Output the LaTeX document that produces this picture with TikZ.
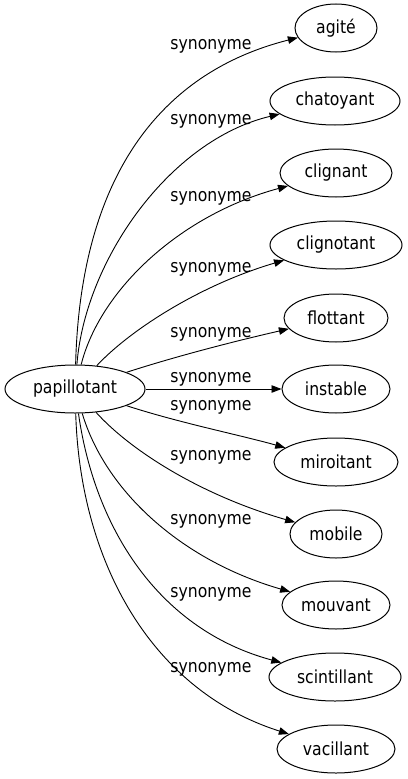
\documentclass[tikz,border=0pt]{standalone}
\usepackage{fontspec}
\setmainfont{DejaVu Sans}[FakeStretch=0.87]
\usetikzlibrary{shapes.geometric,arrows.meta}
\begin{document}
\begin{tikzpicture}[x=1pt,y=1pt,
  word/.style={ellipse,draw,line width=1pt,inner sep=0pt,minimum height=48pt,font=\fontsize{18}{20}\selectfont},
  syn/.style={-{Triangle[length=10pt,width=7.5pt]},line width=0.9pt},
  lab/.style={anchor=base,inner sep=0pt,font=\fontsize{18}{20}\selectfont}]
\useasboundingbox (0,0) rectangle (407,-779);
\node[word,minimum width=140pt] (p) at (75,-389) {papillotant};
\node[word,minimum width=82pt]  (n1)  at (336,-28)  {agité};
\node[word,minimum width=130pt] (n2)  at (335,-101) {chatoyant};
\node[word,minimum width=112pt] (n3)  at (336,-173) {clignant};
\node[word,minimum width=132pt] (n4)  at (336,-245) {clignotant};
\node[word,minimum width=104pt] (n5)  at (336,-318) {flottant};
\node[word,minimum width=108pt] (n6)  at (336,-389) {instable};
\node[word,minimum width=124pt] (n7)  at (336,-462) {miroitant};
\node[word,minimum width=92pt]  (n8)  at (336,-534) {mobile};
\node[word,minimum width=108pt] (n9)  at (336,-605) {mouvant};
\node[word,minimum width=132pt] (n10) at (335,-677) {scintillant};
\node[word,minimum width=118pt] (n11) at (336,-749) {vacillant};
\draw[syn] (p) .. controls (80,-190) and (150,-75) .. (n1);
\draw[syn] (p) .. controls (85,-260) and (170,-140) .. (n2);
\draw[syn] (p) .. controls (100,-290) and (180,-215) .. (n3);
\draw[syn] (p) .. controls (130,-330) and (200,-285) .. (n4);
\draw[syn] (p) .. controls (180,-355) and (240,-340) .. (n5);
\draw[syn] (p) -- (n6);
\draw[syn] (p) .. controls (180,-423) and (240,-435) .. (n7);
\draw[syn] (p) .. controls (130,-450) and (200,-495) .. (n8);
\draw[syn] (p) .. controls (105,-490) and (180,-560) .. (n9);
\draw[syn] (p) .. controls (95,-530) and (160,-630) .. (n10);
\draw[syn] (p) .. controls (80,-560) and (150,-690) .. (n11);
\node[lab] (l1)  at (211,-49)  {synonyme};
\node[lab] (l2)  at (211,-124) {synonyme};
\node[lab] (l3)  at (211,-201) {synonyme};
\node[lab] (l4)  at (211,-272) {synonyme};
\node[lab] (l5)  at (211,-337) {synonyme};
\node[lab] (l6)  at (211,-382) {synonyme};
\node[lab] (l7)  at (211,-410) {synonyme};
\node[lab] (l8)  at (211,-460) {synonyme};
\node[lab] (l9)  at (211,-524) {synonyme};
\node[lab] (l10) at (211,-597) {synonyme};
\node[lab] (l11) at (211,-672) {synonyme};
\end{tikzpicture}
\end{document}
